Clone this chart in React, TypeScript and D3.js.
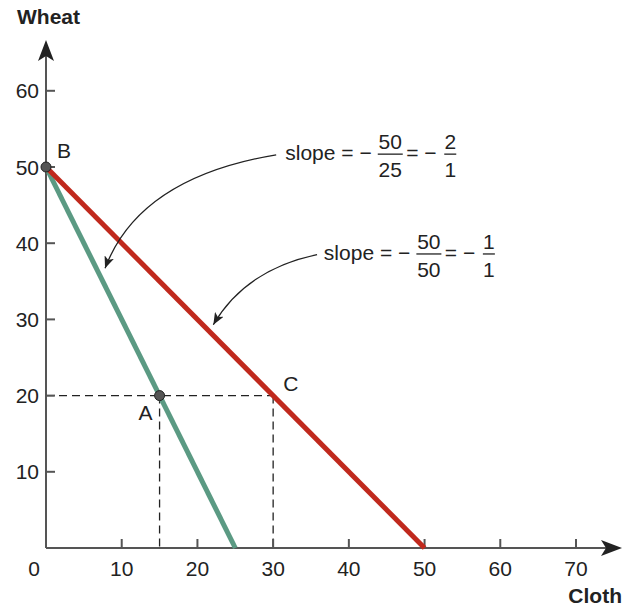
import { useEffect, useRef } from "react";
import * as d3 from "d3";

// axis ticks
const X_TICKS = [10, 20, 30, 40, 50, 60, 70];
const Y_TICKS = [10, 20, 30, 40, 50, 60];

// production possibility frontiers (cloth, wheat)
const GREEN_PPF: [number, number][] = [[0, 50], [25, 0]];
const RED_PPF: [number, number][] = [[0, 50], [50, 0]];

// marked points
const DOTS = [
  { label: "B", cloth: 0, wheat: 50 },
  { label: "A", cloth: 15, wheat: 20 },
];
const POINT_C = { label: "C", cloth: 30, wheat: 20 };

// slope callouts: text anchor, curve start, control, arrow tip (data units)
const CALLOUTS = [
  { num: "50", den: "25", rnum: "2", rden: "1", text: [31.6, 50.9], from: [30.4, 51.6], ctrl: [12.3, 48.6], to: [7.8, 36.7] },
  { num: "50", den: "50", rnum: "1", rden: "1", text: [36.7, 37.8], from: [35.8, 38.5], ctrl: [26.3, 36.5], to: [22.1, 29.3] },
];

const W = 636, H = 606;
const FONT = "'Liberation Sans', Arial, Helvetica, sans-serif";
const INK = "#222";
const AXIS = "#555";

export default function App() {
  const ref = useRef<SVGSVGElement>(null);

  useEffect(() => {
    const el = ref.current;
    if (!el) return;
    const svg = d3.select(el);
    svg.selectAll("*").remove();

    const x = d3.scaleLinear().domain([0, 70]).range([46, 576]);
    const y = d3.scaleLinear().domain([0, 60]).range([548, 90.8]);
    const x0 = x(0), y0 = y(0);

    // arrow marker for callouts
    svg.append("defs").append("marker")
      .attr("id", "tip").attr("viewBox", "0 0 12 10").attr("refX", 12).attr("refY", 5)
      .attr("markerWidth", 12).attr("markerHeight", 10).attr("markerUnits", "userSpaceOnUse")
      .attr("orient", "auto")
      .append("path").attr("d", "M0,0 L12,5 L0,10 L3,5 Z").attr("fill", INK);

    // dashed guides
    const dash = svg.append("g").attr("stroke", "#222").attr("stroke-width", 1.3).attr("stroke-dasharray", "8,5").attr("fill", "none");
    dash.append("line").attr("x1", x0).attr("x2", x(POINT_C.cloth)).attr("y1", y(20)).attr("y2", y(20));
    dash.append("line").attr("x1", x(15)).attr("x2", x(15)).attr("y1", y(20)).attr("y2", y0);
    dash.append("line").attr("x1", x(30)).attr("x2", x(30)).attr("y1", y(20)).attr("y2", y0);

    // axes
    const ax = svg.append("g").attr("stroke", AXIS).attr("stroke-width", 2);
    ax.append("line").attr("x1", x0).attr("x2", 606).attr("y1", y0).attr("y2", y0);
    ax.append("line").attr("x1", x0).attr("x2", x0).attr("y1", y0).attr("y2", 56);
    svg.append("path").attr("fill", INK)
      .attr("d", `M622,${y0} L601,${y0 - 8} L606,${y0} L601,${y0 + 8} Z`);
    svg.append("path").attr("fill", INK)
      .attr("d", `M${x0},40 L${x0 - 8},61 L${x0},56 L${x0 + 8},61 Z`);

    ax.selectAll("line.xt").data(X_TICKS).join("line")
      .attr("x1", (d) => x(d)).attr("x2", (d) => x(d)).attr("y1", y0).attr("y2", y0 - 9);
    ax.selectAll("line.yt").data(Y_TICKS).join("line")
      .attr("x1", x0).attr("x2", x0 + 9).attr("y1", (d) => y(d)).attr("y2", (d) => y(d));

    const txt = svg.append("g").attr("font-family", FONT).attr("fill", INK).attr("font-size", 21);
    txt.selectAll("text.xl").data([0, ...X_TICKS]).join("text")
      .attr("x", (d) => (d === 0 ? x0 - 12 : x(d))).attr("y", y0 + 28).attr("text-anchor", "middle")
      .text((d) => d);
    txt.selectAll("text.yl").data(Y_TICKS).join("text")
      .attr("x", x0 - 7).attr("y", (d) => y(d) + 7.5).attr("text-anchor", "end").text((d) => d);

    txt.append("text").attr("x", 17).attr("y", 24).attr("font-weight", "bold").text("Wheat");
    txt.append("text").attr("x", 622).attr("y", 603).attr("font-weight", "bold").attr("text-anchor", "end").text("Cloth");

    // frontiers
    const line = d3.line<[number, number]>().x((d) => x(d[0])).y((d) => y(d[1]));
    svg.append("path").datum(GREEN_PPF).attr("d", line).attr("stroke", "#5b9a83").attr("stroke-width", 5).attr("fill", "none");
    svg.append("path").datum(RED_PPF).attr("d", line).attr("stroke", "#c0291d").attr("stroke-width", 5).attr("fill", "none");

    // dots
    svg.selectAll("circle.dot").data(DOTS).join("circle")
      .attr("cx", (d) => x(d.cloth)).attr("cy", (d) => y(d.wheat)).attr("r", 5)
      .attr("fill", "#555").attr("stroke", "#222").attr("stroke-width", 1);

    txt.append("text").attr("x", x(0) + 11).attr("y", y(50) - 9).text("B");
    txt.append("text").attr("x", x(15) - 21).attr("y", y(20) + 24).text("A");
    txt.append("text").attr("x", x(POINT_C.cloth) + 10).attr("y", y(20) - 5).text(POINT_C.label);

    // slope callouts
    CALLOUTS.forEach((c) => {
      const p = d3.path();
      p.moveTo(x(c.from[0]), y(c.from[1]));
      p.quadraticCurveTo(x(c.ctrl[0]), y(c.ctrl[1]), x(c.to[0]), y(c.to[1]));
      svg.append("path").attr("d", p.toString()).attr("fill", "none").attr("stroke", INK)
        .attr("stroke-width", 1.3).attr("marker-end", "url(#tip)");

      const tx = x(c.text[0]), ty = y(c.text[1]);
      txt.append("text").attr("x", tx).attr("y", ty).text("slope = \u2212");
      const frac = (cx: number, n: string, d: string, w: number) => {
        txt.append("text").attr("x", cx).attr("y", ty - 11).attr("text-anchor", "middle").text(n);
        txt.append("text").attr("x", cx).attr("y", ty + 17).attr("text-anchor", "middle").text(d);
        svg.append("line").attr("x1", cx - w / 2).attr("x2", cx + w / 2).attr("y1", ty - 6).attr("y2", ty - 6)
          .attr("stroke", INK).attr("stroke-width", 1.3);
      };
      frac(tx + 105, c.num, c.den, 25);
      txt.append("text").attr("x", tx + 121).attr("y", ty).text("= \u2212");
      frac(tx + 165, c.rnum, c.rden, 12);
    });
  }, []);

  return (
    <svg ref={ref} width={W} height={H} viewBox={`0 0 ${W} ${H}`}
      style={{ position: "absolute", left: 0, top: 0, background: "#fff" }} />
  );
}
